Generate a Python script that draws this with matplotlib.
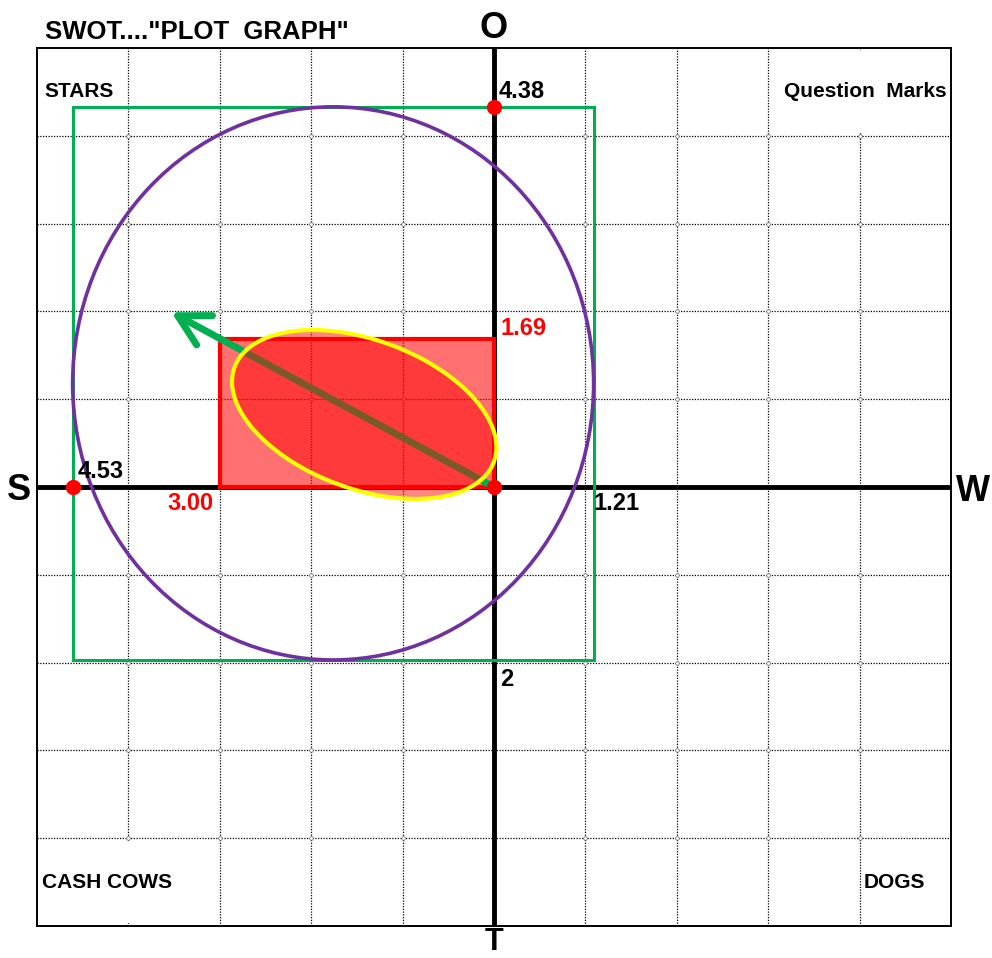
import numpy as np
import matplotlib
matplotlib.use('Agg')
import matplotlib.pyplot as plt
from matplotlib.patches import Rectangle, Ellipse, Polygon

plt.rcParams['font.family'] = ['Liberation Sans', 'DejaVu Sans']

# ---------------- data ----------------
axis_limits = [-5, 5]
grid_steps = [-5, -4, -3, -2, -1, 0, 1, 2, 3, 4, 5]

# outer (green) box: S .. W on x, T .. O on y  (positions)
outer_box_x = [-4.61, 1.09]
outer_box_y = [-1.97, 4.33]
# inner (red) box
inner_box_x = [-3.00, 0.0]
inner_box_y = [0.0, 1.69]
# strategy arrow from origin
arrow_start = [0.0, 0.0]
arrow_tip = [-3.53, 1.99]
# focus ellipse (yellow): centre, semi-axes (x units), tilt (deg)
focus_center = [-1.42, 0.826]
focus_semi = [1.51, 0.815]
focus_angle = -20.0
# red markers
dots_x = [0.0, outer_box_x[0], 0.0]
dots_y = [outer_box_y[1], 0.0, 0.0]

title_text = 'SWOT...."PLOT  GRAPH"'
axis_letters = {'S': 'S', 'W': 'W', 'O': 'O', 'T': 'T'}
quadrant_labels = ['STARS', 'Question  Marks', 'CASH COWS', 'DOGS']
value_labels_black = ['4.38', '4.53', '1.21', '2']
value_labels_red = ['1.69', '3.00']

GREEN = '#00B050'
PURPLE = '#7030A0'

# ---------------- figure ----------------
fig = plt.figure(figsize=(9.92, 9.58), dpi=100)
ax = fig.add_axes([37/992, 32/958, (951-37)/992, (926-48)/958])
ax.set_xlim(*axis_limits)
ax.set_ylim(*axis_limits)
ax.set_xticks([])
ax.set_yticks([])
for sp in ax.spines.values():
    sp.set_linewidth(1.4)
    sp.set_color('black')
    sp.set_zorder(10)

# grid (dotted)
inner_steps = grid_steps[1:-1]
ax.vlines(inner_steps, axis_limits[0], axis_limits[1], colors='black',
          linestyles=(0, (1, 1.2)), linewidth=0.9, zorder=1)
ax.hlines(inner_steps, axis_limits[0], axis_limits[1], colors='black',
          linestyles=(0, (1, 1.2)), linewidth=0.9, zorder=1)
gx, gy = np.meshgrid(inner_steps, inner_steps)
ax.plot(gx.ravel(), gy.ravel(), 'o', ms=2.6, mfc='white', mec='#666666',
        mew=0.5, zorder=1.2)

# white boxes behind two quadrant labels (hide grid segments)
ax.add_patch(Rectangle((3.9, 4.03), 1.0, 0.94, facecolor='white',
                       edgecolor='none', zorder=1.5))
ax.add_patch(Rectangle((-4.97, -4.97), 1.1, 0.94, facecolor='white',
                       edgecolor='none', zorder=1.5))

# main axes
ax.axhline(0, color='black', lw=3.5, zorder=2)
ax.axvline(0, color='black', lw=3.5, zorder=2)

# green box
ax.add_patch(Rectangle((outer_box_x[0], outer_box_y[0]),
                       outer_box_x[1]-outer_box_x[0], outer_box_y[1]-outer_box_y[0],
                       facecolor='none', edgecolor=GREEN, lw=2.2, zorder=3))
# purple ellipse inscribed in green box
ax.add_patch(Ellipse(((outer_box_x[0]+outer_box_x[1])/2, (outer_box_y[0]+outer_box_y[1])/2),
                     outer_box_x[1]-outer_box_x[0], outer_box_y[1]-outer_box_y[0],
                     facecolor='none', edgecolor=PURPLE, lw=2.6, zorder=3.2))

# red box
ax.add_patch(Rectangle((inner_box_x[0], inner_box_y[0]),
                       inner_box_x[1]-inner_box_x[0], inner_box_y[1]-inner_box_y[0],
                       facecolor=(1, 0, 0, 0.56), edgecolor='none', zorder=4))
ax.add_patch(Rectangle((inner_box_x[0], inner_box_y[0]),
                       inner_box_x[1]-inner_box_x[0], inner_box_y[1]-inner_box_y[0],
                       facecolor='none', edgecolor='red', lw=3, zorder=4.1))

# arrow
ax.annotate('', xy=arrow_tip, xytext=arrow_start,
            arrowprops=dict(arrowstyle='->,head_length=1.1,head_width=0.6',
                            color=GREEN, lw=5, mutation_scale=20,
                            shrinkA=0, shrinkB=0, capstyle='round'),
            zorder=5)

# yellow focus ellipse, built in display-equal units
fig.canvas.draw()
p0 = ax.transData.transform((0, 0))
p1 = ax.transData.transform((1, 1))
sx, sy = p1 - p0
ratio = sx / sy
t = np.linspace(0, 2*np.pi, 400)
th = np.deg2rad(focus_angle)
ex = focus_semi[0]*np.cos(t)
ey = focus_semi[1]*np.sin(t)
rx = ex*np.cos(th) - ey*np.sin(th)
ry = ex*np.sin(th) + ey*np.cos(th)
pts = np.column_stack([focus_center[0] + rx, focus_center[1] + ry*ratio])
ax.add_patch(Polygon(pts, closed=True, facecolor=(1, 0, 0, 0.48),
                     edgecolor='none', zorder=6))
ax.add_patch(Polygon(pts, closed=True, facecolor='none',
                     edgecolor='#FFFF00', lw=3, zorder=6.1))

# red dots
ax.plot(dots_x, dots_y, 'o', color='red', ms=10, zorder=7, clip_on=False)

# value labels
fs_val = 17
ax.text(0.055, 4.51, value_labels_black[0], fontsize=fs_val, fontweight='bold',
        ha='left', va='center', zorder=9)
ax.text(-4.56, 0.18, value_labels_black[1], fontsize=fs_val, fontweight='bold',
        ha='left', va='center', zorder=9)
ax.text(1.09, -0.19, value_labels_black[2], fontsize=fs_val, fontweight='bold',
        ha='left', va='center', zorder=9)
ax.text(0.066, -2.19, value_labels_black[3], fontsize=fs_val, fontweight='bold',
        ha='left', va='center', zorder=9)
ax.text(0.066, 1.80, value_labels_red[0], fontsize=fs_val, fontweight='bold',
        color='red', ha='left', va='center', zorder=9)
ax.text(-3.07, -0.19, value_labels_red[1], fontsize=fs_val, fontweight='bold',
        color='red', ha='right', va='center', zorder=9)

# quadrant labels
fs_q = 15
ax.text(-4.92, 4.50, quadrant_labels[0], fontsize=fs_q, fontweight='bold',
        ha='left', va='center', zorder=9)
ax.text(4.95, 4.50, quadrant_labels[1], fontsize=fs_q, fontweight='bold',
        ha='right', va='center', zorder=9)
ax.text(-4.95, -4.51, quadrant_labels[2], fontsize=fs_q, fontweight='bold',
        ha='left', va='center', zorder=9)
ax.text(4.04, -4.51, quadrant_labels[3], fontsize=fs_q, fontweight='bold',
        ha='left', va='center', zorder=9)

# title and axis letters
fig.text(45/992, 1-39/958, title_text, fontsize=18.5, fontweight='bold',
         ha='left', va='baseline')
fs_l = 26
fig.text(494/992, 1-38/958, axis_letters['O'], fontsize=fs_l, fontweight='bold',
         ha='center', va='baseline')
fig.text(494/992, 1-957/958, axis_letters['T'], fontsize=22, fontweight='bold',
         ha='center', va='bottom')
fig.text(19/992, 1-500/958, axis_letters['S'], fontsize=fs_l, fontweight='bold',
         ha='center', va='baseline')
fig.text(973/992, 1-501/958, axis_letters['W'], fontsize=fs_l, fontweight='bold',
         ha='center', va='baseline')

fig.savefig('out.png', dpi=100, facecolor='white')
